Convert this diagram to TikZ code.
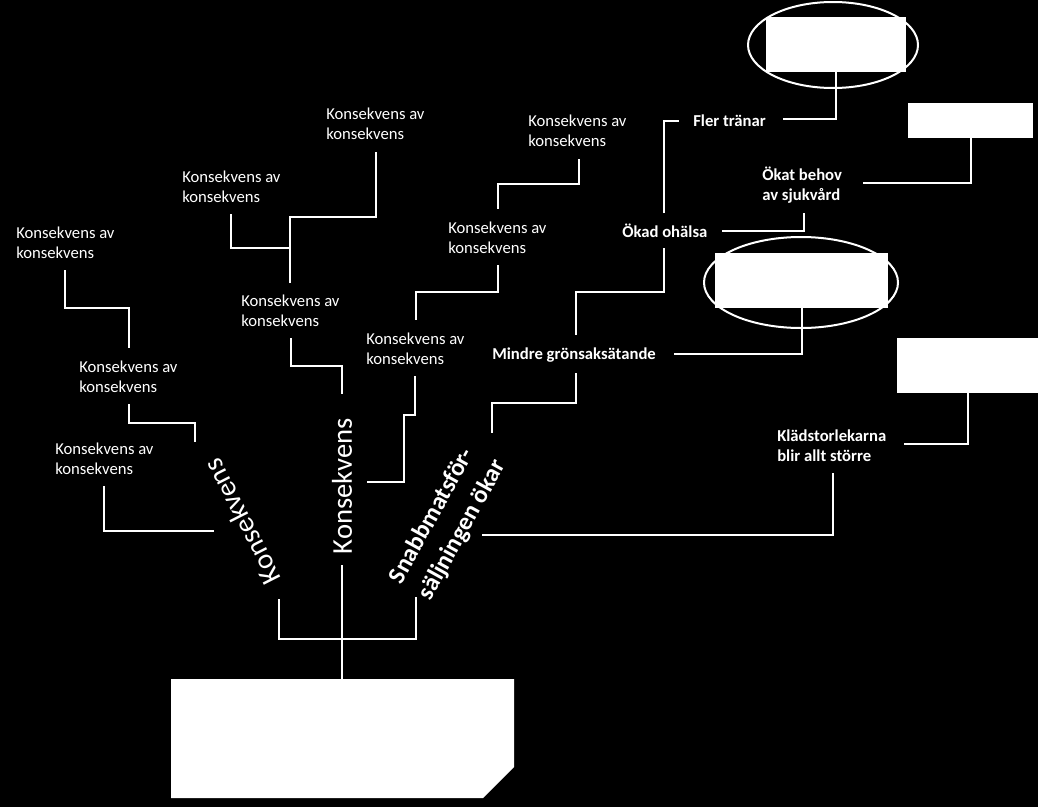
\documentclass[tikz,border=0pt]{standalone}
\usepackage{fontspec}
\setmainfont{Carlito}
\usetikzlibrary{shapes.geometric}
\begin{document}
\begin{tikzpicture}[x=0.75pt,y=-0.75pt,
  con/.style={draw=white,line width=1.5pt},
  small/.style={text=white,font=\fontsize{12.5}{15}\selectfont,align=left,anchor=west,inner sep=0pt},
  boldlbl/.style={text=white,font=\fontsize{12.5}{15}\selectfont\bfseries,align=left,anchor=west,inner sep=0pt},
  big/.style={text=white,font=\fontsize{21.5}{26}\selectfont,inner sep=0pt},
  bigbold/.style={text=white,font=\fontsize{18.5}{25}\selectfont\bfseries,inner sep=0pt,align=left},
  wbox/.style={fill=white,draw=none,inner sep=0pt},
  oval/.style={draw=white,line width=1.5pt,ellipse,inner sep=0pt}]
\fill[black] (0,0) rectangle (1038,807);
\useasboundingbox (0,0) rectangle (1038,807);

% ---- white boxes and ovals
\node[oval,minimum width=127.5pt,minimum height=64.5pt] (ov1) at (833,45) {};
\node[wbox,minimum width=105pt,minimum height=41.25pt] (bx1) at (836,44.5) {};
\node[wbox,minimum width=93.75pt,minimum height=26.25pt] (bx2) at (970.5,120.5) {};
\node[oval,minimum width=145.5pt,minimum height=68.25pt] (ov2) at (801,282.5) {};
\node[wbox,minimum width=129.75pt,minimum height=41.25pt] (bx3) at (801.5,280.5) {};
\node[wbox,minimum width=107.25pt,minimum height=41.25pt] (bx4) at (968.5,365.5) {};
\fill[white] (171,679) -- (514,679) -- (514,767) -- (483,798) -- (171,798) -- cycle;
\coordinate (root) at (342,679);

% ---- small labels
\node[small] (L1) at (16,243) {Konsekvens av\\konsekvens};
\node[small] (L2) at (79,377) {Konsekvens av\\konsekvens};
\node[small] (L3) at (55,458.5) {Konsekvens av\\konsekvens};
\node[small] (L4) at (241,310.5) {Konsekvens av\\konsekvens};
\node[small] (L5) at (182,187) {Konsekvens av\\konsekvens};
\node[small] (L6) at (326,123.5) {Konsekvens av\\konsekvens};
\node[small] (L8) at (528,131) {Konsekvens av\\konsekvens};
\node[small] (L9) at (448,237.5) {Konsekvens av\\konsekvens};
\node[small] (L10) at (366,349) {Konsekvens av\\konsekvens};

% ---- bold labels
\node[boldlbl] (fler) at (693,121) {Fler tränar};
\node[boldlbl] (behov) at (762,185) {Ökat behov\\av sjukvård};
\node[boldlbl] (ohalsa) at (622,231) {Ökad ohälsa};
\node[boldlbl] (mindre) at (492,355) {Mindre grönsaksätande};
\node[boldlbl] (klad) at (777,446) {Klädstorlekarna\\blir allt större};

% ---- rotated labels
\node[big,rotate=90] (kv) at (342,486) {Konsekvens};
\node[big,rotate=117] (kl) at (242,522) {Konsekvens};
\node[bigbold,rotate=61] (snabb) at (448,522) {Snabbmatsför-\\säljningen ökar};

% ---- connector end points
\coordinate (a01) at (342,565);
\coordinate (a02) at (279,599); \coordinate (b02) at (416,597);
\coordinate (a03) at (104,486); \coordinate (b03) at (214,531);
\coordinate (a04) at (129,404); \coordinate (b04) at (195,442);
\coordinate (a05) at (65,270);  \coordinate (b05) at (129,348);
\coordinate (a06) at (291,338); \coordinate (b06) at (342,394);
\coordinate (a07) at (290,283); \coordinate (b07) at (376,152);
\coordinate (a08) at (290,248); \coordinate (b08) at (231,214);
\coordinate (a09) at (579,159); \coordinate (b09) at (498,209);
\coordinate (a10) at (498,265); \coordinate (b10) at (416,320);
\coordinate (a11) at (415,376); \coordinate (b11) at (367,482);
\coordinate (a12) at (664,248); \coordinate (b12) at (576,335);
\coordinate (a13) at (576,373); \coordinate (b13) at (492,433);
\coordinate (a14) at (482,535); \coordinate (b14) at (833,473);
\coordinate (a15) at (904,444);
\coordinate (a16) at (674,354);
\coordinate (a17) at (664,213); \coordinate (b17) at (679,121);
\coordinate (a18) at (722,231); \coordinate (b18) at (804,213);
\coordinate (a19) at (863,183);
\coordinate (a20) at (783,119);

% ---- connectors
\draw[con] (a01) -- (root);
\draw[con] (a02) -- (a02 |- 0,639) -| (b02);
\draw[con] (a03) |- (b03);
\draw[con] (a04) -- (a04 |- 0,423) -| (b04);
\draw[con] (a05) -- (a05 |- 0,308) -| (b05);
\draw[con] (a06) -- (a06 |- 0,366) -| (b06);
\draw[con] (a07) -- (a07 |- 0,217) -| (b07);
\draw[con] (a08) -| (b08);
\draw[con] (a09) -- (a09 |- 0,184) -| (b09);
\draw[con] (a10) -- (a10 |- 0,292) -| (b10);
\draw[con] (a11) -- (a11 |- 0,415) -- (404,415) |- (b11);
\draw[con] (a12) -- (a12 |- 0,292) -| (b12);
\draw[con] (a13) -- (a13 |- 0,403) -| (b13);
\draw[con] (a14) -| (b14);
\draw[con] (a15) -| (bx4.south -| 968,0);
\draw[con] (a16) -| (bx3.south);
\draw[con] (a17) |- (b17);
\draw[con] (a18) -| (b18);
\draw[con] (a19) -| (bx2.south);
\draw[con] (a20) -| (bx1.south);
\end{tikzpicture}
\end{document}
